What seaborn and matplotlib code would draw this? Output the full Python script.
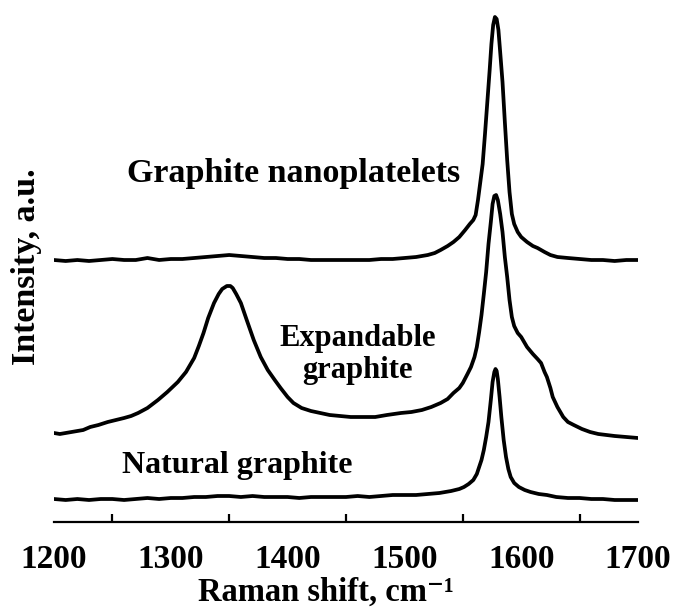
import matplotlib
matplotlib.use("Agg")
import matplotlib.pyplot as plt
from matplotlib.ticker import MultipleLocator
import seaborn as sns
import pandas as pd

# Raman shift (cm^-1) and intensity (a.u., spectra stacked vertically as in the figure)
natural_x = [1200, 1210, 1220, 1230, 1240, 1250, 1260, 1270, 1280, 1290, 1300, 1310,
             1320, 1330, 1340, 1350, 1360, 1370, 1380, 1390, 1400, 1410, 1420, 1430,
             1440, 1450, 1460, 1470, 1480, 1490, 1500, 1510, 1520, 1530, 1540, 1547,
             1551, 1555, 1559, 1562, 1564, 1566, 1568, 1570, 1572, 1574, 1575.5, 1577,
             1578, 1579, 1580, 1581.5, 1583, 1585, 1587, 1589, 1591, 1594, 1598, 1603,
             1608, 1615, 1622, 1630, 1640, 1650, 1660, 1670, 1680, 1690, 1700]
natural_y = [23, 22, 23, 22, 23, 23, 22, 23, 24, 23, 24, 24,
             25, 25, 26, 26, 25, 26, 25, 25, 25, 24, 25, 25,
             25, 25, 26, 25, 26, 27, 27, 27, 28, 29, 31, 33,
             35, 38, 42, 48, 55, 62, 72, 85, 100, 122, 140, 150,
             153, 151, 143, 125, 105, 82, 65, 53, 45, 39, 35, 32,
             30, 28, 27, 25, 24, 24, 23, 23, 22, 22, 22]

expand_x = [1200, 1205, 1210, 1215, 1220, 1225, 1231, 1238, 1246, 1253, 1260, 1266,
            1272, 1280, 1289, 1297, 1306, 1313, 1320, 1324, 1328, 1332, 1337, 1341,
            1344, 1348, 1351, 1353, 1356, 1360, 1365, 1371, 1377, 1383, 1389, 1394,
            1400, 1405, 1412, 1420, 1428, 1436, 1445, 1454, 1465, 1475, 1485, 1497,
            1506, 1515, 1523, 1531, 1537, 1542, 1547, 1550, 1554, 1557, 1560, 1562,
            1564, 1566, 1568, 1570, 1572, 1574, 1575.5, 1577, 1578.5, 1580, 1582, 1584,
            1586, 1588, 1590, 1592, 1594, 1597, 1600, 1605, 1610, 1614, 1617, 1620,
            1622, 1625, 1627, 1631, 1636, 1640, 1645, 1652, 1659, 1666, 1673, 1680,
            1690, 1700]
expand_y = [89, 88, 89, 90, 91, 92, 95, 97, 100, 102, 104, 106,
            109, 114, 122, 130, 140, 150, 164, 176, 189, 204, 219, 228,
            233, 236, 236, 234, 228, 219, 202, 182, 165, 152, 142, 134,
            125, 119, 114, 111, 109, 107, 106, 105, 105, 105, 107, 109,
            110, 112, 115, 119, 123, 129, 134, 139, 148, 155, 165, 175,
            190, 207, 228, 250, 278, 300, 318, 326, 327, 322, 308, 290,
            265, 245, 222, 205, 196, 189, 185, 175, 168, 163, 159, 150,
            145, 134, 125, 115, 105, 100, 97, 93, 90, 88, 87, 86,
            85, 84]

nano_x = [1200, 1210, 1220, 1230, 1240, 1250, 1260, 1270, 1280, 1285, 1290, 1300,
          1310, 1320, 1330, 1340, 1350, 1360, 1370, 1380, 1390, 1400, 1410, 1420,
          1430, 1440, 1450, 1460, 1470, 1480, 1490, 1500, 1510, 1520, 1526, 1531,
          1537, 1542, 1547, 1552, 1556, 1559, 1561, 1563, 1565, 1567, 1569, 1571,
          1573, 1574.5, 1576, 1577.5, 1579, 1580.5, 1582, 1584, 1586, 1588, 1590, 1592,
          1594, 1597, 1600, 1605, 1610, 1614, 1620, 1625, 1631, 1640, 1650, 1660,
          1670, 1680, 1690, 1700]
nano_y = [262, 261, 262, 261, 262, 263, 262, 262, 264, 263, 262, 263,
          263, 264, 265, 266, 267, 266, 265, 264, 264, 263, 263, 262,
          262, 262, 262, 262, 262, 263, 263, 264, 265, 267, 269, 272,
          276, 280, 285, 292, 298, 302, 307, 322, 340, 358, 388, 420,
          452, 478, 497, 505, 503, 492, 470, 440, 400, 362, 330, 308,
          298, 290, 285, 280, 276, 274, 270, 267, 265, 264, 263, 262,
          262, 261, 262, 262]

x_ticks = [1200, 1300, 1400, 1500, 1600, 1700]
labels = ["Natural graphite", "Expandable\ngraphite", "Graphite nanoplatelets"]

sns.set_style("white")
plt.rcParams["font.family"] = ["Liberation Serif", "DejaVu Serif"]
plt.rcParams["font.weight"] = "bold"
plt.rcParams["text.color"] = "black"
plt.rcParams["axes.labelcolor"] = "black"
plt.rcParams["xtick.color"] = "black"

fig = plt.figure(figsize=(6.75, 6.07), dpi=100)
ax = fig.add_axes([54 / 675, 1 - 522 / 607, 584 / 675, 522 / 607])

for xs, ys in [(natural_x, natural_y), (expand_x, expand_y), (nano_x, nano_y)]:
    df = pd.DataFrame({"x": xs, "y": ys})
    sns.lineplot(data=df, x="x", y="y", ax=ax, color="black", linewidth=2.7,
                 sort=False, estimator=None)

ax.set_xlim(1200, 1700)
ax.set_ylim(0, 522)
ax.set_xticks(x_ticks)
ax.xaxis.set_minor_locator(MultipleLocator(50))
ax.set_yticks([])
for s in ["left", "top", "right"]:
    ax.spines[s].set_visible(False)
ax.spines["bottom"].set_linewidth(1.6)
ax.spines["bottom"].set_color("black")
ax.tick_params(axis="x", which="major", direction="inout", length=14, width=1.6,
               color="black", labelsize=24, pad=9)
ax.tick_params(axis="x", which="minor", direction="in", length=6, width=1.6,
               color="black", bottom=True)
for lab in ax.get_xticklabels():
    lab.set_fontweight("bold")

ax.set_xlabel("Raman shift, cm\u207b\u00b9", fontsize=23.5, fontweight="bold")
ax.xaxis.set_label_coords((326 - 54) / 584, -0.104)
ax.set_ylabel("Intensity, a.u.", fontsize=24.5, fontweight="bold")
ax.yaxis.set_label_coords(-0.021, 0.49)

ax.text(1405, 340, labels[2], fontsize=24.5, fontweight="bold", ha="center", va="baseline")
ax.text(1460, 144, labels[1], fontsize=22, fontweight="bold", ha="center", va="baseline",
        linespacing=1.15)
ax.text(1357, 49, labels[0], fontsize=23, fontweight="bold", ha="center", va="baseline")

fig.savefig("out.png", dpi=100)
